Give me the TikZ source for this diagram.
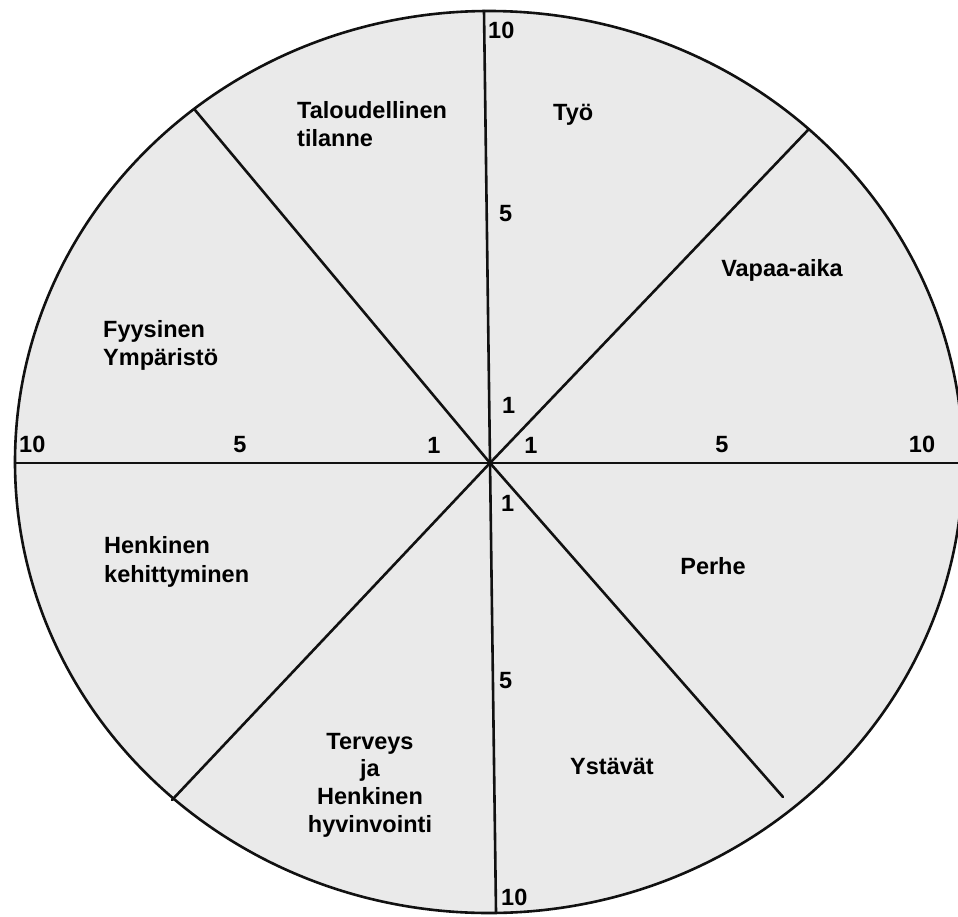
\documentclass[tikz,border=0pt]{standalone}
\usepackage{fontspec}
\setmainfont{Liberation Sans}
\definecolor{bg}{HTML}{EAEAEA}
\definecolor{ln}{HTML}{111111}
\begin{document}
\begin{tikzpicture}[x=1pt,y=-1pt,
  lbl/.style={font=\bfseries\fontsize{23.5}{28}\selectfont, inner sep=0pt, text=black},
  spoke/.style={line width=2.6pt, draw=ln, line cap=round},
  rim/.style={line width=2.6pt, draw=ln, fill=bg}]
\useasboundingbox (0,0) rectangle (958,916);
\begin{scope}
  \clip (0,0) rectangle (958,916);
  \path[rim] (489,462) ellipse [x radius=474, y radius=451];
\end{scope}
\coordinate (c) at (490,463);
\coordinate (top) at (484,11);
\coordinate (bot) at (496,912);
\coordinate (lft) at (15,463);
\coordinate (rgt) at (960,463);
\coordinate (ul) at (195,110);
\coordinate (ur) at (808,130);
\coordinate (ll) at (172,800);
\coordinate (lr) at (783,797);
\draw[spoke] (top) -- (bot);
\draw[spoke] (lft) -- (rgt);
\draw[spoke] (ul) -- (c) -- (lr);
\draw[spoke] (ur) -- (c) -- (ll);
% sector labels
\node[lbl, anchor=base west] (t1a) at (297,118) {Taloudellinen};
\node[lbl, anchor=base west] (t1b) at (297,146) {tilanne};
\node[lbl, anchor=base west] (t2) at (553,120) {Työ};
\node[lbl, anchor=base] (t3) at (782,276) {Vapaa-aika};
\node[lbl, anchor=base west] (t4a) at (103,337) {Fyysinen};
\node[lbl, anchor=base west] (t4b) at (103,365) {Ympäristö};
\node[lbl, anchor=base west] (t5a) at (104,553) {Henkinen};
\node[lbl, anchor=base west] (t5b) at (104,582) {kehittyminen};
\node[lbl, anchor=base] (t6a) at (370,749) {Terveys};
\node[lbl, anchor=base] (t6b) at (370,776) {ja};
\node[lbl, anchor=base] (t6c) at (370,804) {Henkinen};
\node[lbl, anchor=base] (t6d) at (370,832) {hyvinvointi};
\node[lbl, anchor=base] (t7) at (612,774) {Ystävät};
\node[lbl, anchor=base] (t8) at (713,574) {Perhe};
% scale labels
\node[lbl, anchor=base west] (n1) at (488,38) {10};
\node[lbl, anchor=base west] (n2) at (499,221) {5};
\node[lbl, anchor=base west] (n3) at (502,413) {1};
\node[lbl, anchor=base] (n4) at (434,453) {1};
\node[lbl, anchor=base] (n5) at (531,453) {1};
\node[lbl, anchor=base west] (n6) at (501,511) {1};
\node[lbl, anchor=base west] (n7) at (19,452) {10};
\node[lbl, anchor=base] (n8) at (240,452) {5};
\node[lbl, anchor=base] (n9) at (722,452) {5};
\node[lbl, anchor=base] (n10) at (922,452) {10};
\node[lbl, anchor=base west] (n11) at (499,688) {5};
\node[lbl, anchor=base west] (n12) at (501,905) {10};
\end{tikzpicture}
\end{document}
